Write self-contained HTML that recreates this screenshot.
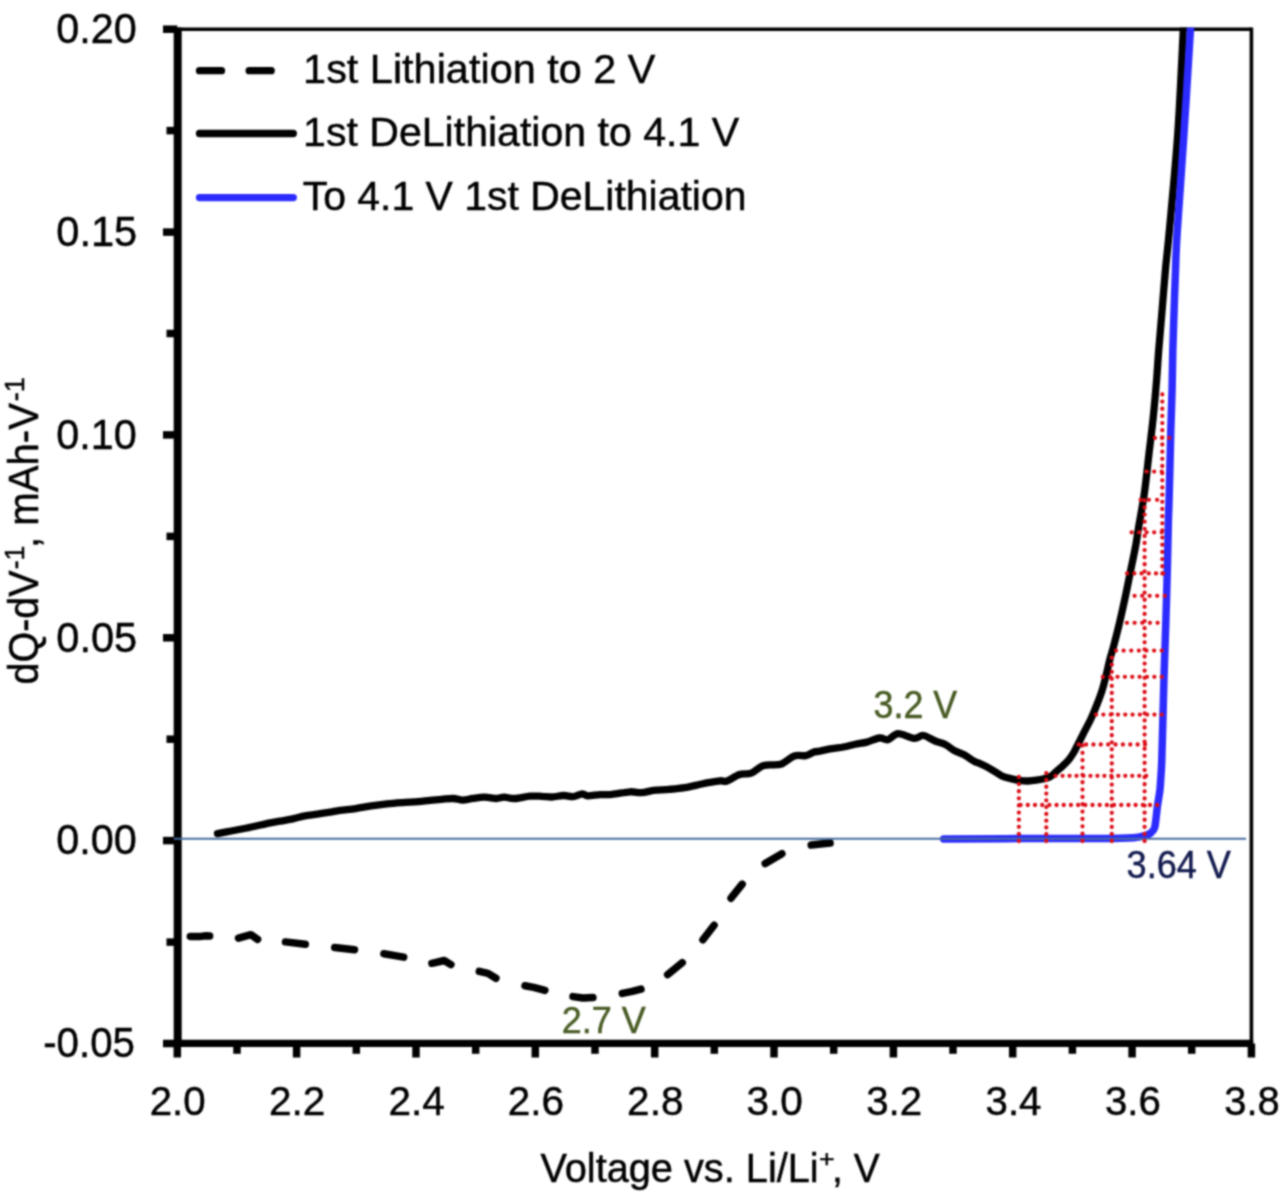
<!DOCTYPE html><html><head><meta charset="utf-8"><style>html,body{margin:0;padding:0;background:#fff;}svg{display:block;}text{font-family:"Liberation Sans",sans-serif;font-size:100px;}</style></head><body>
<svg width="1280" height="1196" viewBox="0 0 1280 1196">
<defs><filter id="bl" x="0" y="0" width="1280" height="1196" filterUnits="userSpaceOnUse" color-interpolation-filters="sRGB"><feConvolveMatrix order="5" kernelMatrix="0.00087 0.00695 0.01388 0.00695 0.00087 0.00695 0.05540 0.11068 0.05540 0.00695 0.01388 0.11068 0.22111 0.11068 0.01388 0.00695 0.05540 0.11068 0.05540 0.00695 0.00087 0.00695 0.01388 0.00695 0.00087" divisor="1" edgeMode="duplicate"/></filter></defs>
<g filter="url(#bl)">
<rect width="1280" height="1196" fill="#fff"/>
<text transform="translate(56.24,43.00) scale(0.4139,0.4200)" fill="#000" stroke="#000" stroke-width="1.08">0.20</text>
<text transform="translate(56.24,245.86) scale(0.4161,0.4200)" fill="#000" stroke="#000" stroke-width="1.08">0.15</text>
<text transform="translate(56.24,448.72) scale(0.4139,0.4200)" fill="#000" stroke="#000" stroke-width="1.08">0.10</text>
<text transform="translate(56.24,651.58) scale(0.4161,0.4200)" fill="#000" stroke="#000" stroke-width="1.08">0.05</text>
<text transform="translate(56.24,854.44) scale(0.4139,0.4200)" fill="#000" stroke="#000" stroke-width="1.08">0.00</text>
<text transform="translate(43.19,1057.30) scale(0.4027,0.4200)" fill="#000" stroke="#000" stroke-width="1.09">-0.05</text>
<text transform="translate(149.74,1115.00) scale(0.4023,0.4057)" fill="#000" stroke="#000" stroke-width="1.11">2.0</text>
<text transform="translate(269.07,1115.00) scale(0.4054,0.4057)" fill="#000" stroke="#000" stroke-width="1.11">2.2</text>
<text transform="translate(388.41,1115.00) scale(0.4054,0.4057)" fill="#000" stroke="#000" stroke-width="1.11">2.4</text>
<text transform="translate(507.76,1115.00) scale(0.4054,0.4057)" fill="#000" stroke="#000" stroke-width="1.11">2.6</text>
<text transform="translate(627.10,1115.00) scale(0.4054,0.4057)" fill="#000" stroke="#000" stroke-width="1.11">2.8</text>
<text transform="translate(746.45,1115.00) scale(0.4054,0.4057)" fill="#000" stroke="#000" stroke-width="1.11">3.0</text>
<text transform="translate(866.21,1115.00) scale(0.4023,0.4057)" fill="#000" stroke="#000" stroke-width="1.11">3.2</text>
<text transform="translate(985.55,1115.00) scale(0.4023,0.4057)" fill="#000" stroke="#000" stroke-width="1.11">3.4</text>
<text transform="translate(1104.90,1115.00) scale(0.4023,0.4057)" fill="#000" stroke="#000" stroke-width="1.11">3.6</text>
<text transform="translate(1224.25,1115.00) scale(0.3992,0.4057)" fill="#000" stroke="#000" stroke-width="1.12">3.8</text>
<text transform="translate(303.09,83.20) scale(0.4144,0.4029)" fill="#000" stroke="#000" stroke-width="1.10">1st Lithiation to 2 V</text>
<text transform="translate(303.11,146.40) scale(0.4107,0.4029)" fill="#000" stroke="#000" stroke-width="1.11">1st DeLithiation to 4.1 V</text>
<text transform="translate(302.68,209.60) scale(0.4094,0.4000)" fill="#000" stroke="#000" stroke-width="1.11">To 4.1 V 1st DeLithiation</text>
<line x1="199.5" y1="70.7" x2="221.5" y2="70.7" stroke="#000" stroke-width="7.3" stroke-linecap="round"/>
<line x1="249.2" y1="70.7" x2="271.2" y2="70.7" stroke="#000" stroke-width="7.3" stroke-linecap="round"/>
<line x1="199.5" y1="133.5" x2="293.3" y2="133.5" stroke="#000" stroke-width="7.3" stroke-linecap="round"/>
<line x1="199.5" y1="197.6" x2="293.3" y2="197.6" stroke="#2b2bff" stroke-width="7.3" stroke-linecap="round"/>
<text transform="translate(540.40,1182.40) scale(0.3974,0.4087)" fill="#000" stroke="#000" stroke-width="1.12">Voltage vs. Li/Li</text>
<text transform="translate(818.96,1167.00) scale(0.2688,0.2408)" fill="#000" stroke="#000" stroke-width="1.77">+</text>
<text transform="translate(832.00,1182.40) scale(0.3894,0.4087)" fill="#000" stroke="#000" stroke-width="1.13">, V</text>
<g transform="translate(38.0,0) rotate(-90)"><text transform="translate(-684.58,0.00) scale(0.3954,0.4174)" fill="#000" stroke="#000" stroke-width="1.11">dQ-dV</text><text transform="translate(-569.27,-13.80) scale(0.2663,0.2725)" fill="#000" stroke="#000" stroke-width="1.67">-1</text><text transform="translate(-548.02,0.00) scale(0.4017,0.4174)" fill="#000" stroke="#000" stroke-width="1.10">, mAh-V</text><text transform="translate(-401.19,-13.80) scale(0.2713,0.2725)" fill="#000" stroke="#000" stroke-width="1.66">-1</text></g>
<text transform="translate(873.57,718.00) scale(0.3581,0.3812)" fill="#475a22" stroke="#475a22" stroke-width="1.22">3.2 V</text>
<text transform="translate(561.70,1032.70) scale(0.3596,0.3725)" fill="#475a22" stroke="#475a22" stroke-width="1.23">2.7 V</text>
<text transform="translate(1126.56,878.10) scale(0.3611,0.3797)" fill="#121a4e" stroke="#121a4e" stroke-width="1.21">3.64 V</text>
<defs><clipPath id="pa"><rect x="175" y="27.4" width="1078" height="1016"/></clipPath></defs>
<line x1="177.3" y1="29.2" x2="1251.4" y2="29.2" stroke="#000" stroke-width="3.4"/>
<path clip-path="url(#pa)" d="M217.50,833.60 C219.58,833.21 225.10,832.18 230.00,831.25 C234.90,830.32 242.73,828.83 246.90,828.00 C251.07,827.17 251.10,827.17 255.00,826.30 C258.90,825.43 266.13,823.65 270.30,822.80 C274.47,821.95 276.10,821.90 280.00,821.20 C283.90,820.50 289.53,819.50 293.70,818.60 C297.87,817.70 301.08,816.53 305.00,815.80 C308.92,815.07 313.03,814.80 317.20,814.20 C321.37,813.60 326.20,812.83 330.00,812.20 C333.80,811.57 335.73,811.00 340.00,810.40 C344.27,809.80 350.38,809.35 355.60,808.60 C360.82,807.85 366.08,806.68 371.30,805.90 C376.52,805.12 381.70,804.45 386.90,803.90 C392.10,803.35 397.30,802.98 402.50,802.60 C407.70,802.22 413.52,801.98 418.10,801.60 C422.68,801.22 426.07,800.68 430.00,800.30 C433.93,799.92 437.80,799.60 441.70,799.30 C445.60,799.00 449.88,798.37 453.40,798.50 C456.92,798.63 459.53,800.12 462.80,800.10 C466.07,800.08 469.35,798.88 473.00,798.40 C476.65,797.92 480.80,797.18 484.70,797.20 C488.60,797.22 493.15,798.50 496.40,798.50 C499.65,798.50 501.20,797.20 504.20,797.20 C507.20,797.20 510.10,798.67 514.40,798.50 C518.70,798.33 525.45,796.57 530.00,796.20 C534.55,795.83 538.05,796.17 541.70,796.30 C545.35,796.43 548.25,797.13 551.90,797.00 C555.55,796.87 560.08,795.57 563.60,795.50 C567.12,795.43 569.88,796.88 573.00,796.60 C576.12,796.32 579.83,793.93 582.30,793.80 C584.77,793.67 584.80,795.67 587.80,795.80 C590.80,795.93 596.27,794.83 600.30,794.60 C604.33,794.37 607.05,794.87 612.00,794.40 C616.95,793.93 625.05,792.08 630.00,791.80 C634.95,791.52 637.80,792.93 641.70,792.70 C645.60,792.47 648.85,790.95 653.40,790.40 C657.95,789.85 663.78,789.85 669.00,789.40 C674.22,788.95 679.48,788.55 684.70,787.70 C689.92,786.85 696.40,785.13 700.30,784.30 C704.20,783.47 704.82,783.28 708.10,782.70 C711.38,782.12 716.85,781.08 720.00,780.80 C723.15,780.52 723.75,782.07 727.00,781.00 C730.25,779.93 735.45,775.70 739.50,774.40 C743.55,773.10 747.25,774.70 751.30,773.20 C755.35,771.70 758.87,766.90 763.80,765.40 C768.73,763.90 775.83,765.77 780.90,764.20 C785.97,762.63 790.03,757.43 794.20,756.00 C798.37,754.57 802.63,756.25 805.90,755.60 C809.17,754.95 811.45,752.85 813.80,752.10 C816.15,751.35 817.02,751.68 820.00,751.10 C822.98,750.52 827.80,749.28 831.70,748.60 C835.60,747.92 839.48,747.72 843.40,747.00 C847.32,746.28 851.28,745.12 855.20,744.30 C859.12,743.48 862.87,743.15 866.90,742.10 C870.93,741.05 875.88,738.40 879.40,738.00 C882.92,737.60 884.88,740.42 888.00,739.70 C891.12,738.98 893.75,733.93 898.10,733.70 C902.45,733.47 909.88,738.00 914.10,738.30 C918.32,738.60 919.88,735.05 923.40,735.50 C926.92,735.95 931.55,739.50 935.20,741.00 C938.85,742.50 942.05,742.87 945.30,744.50 C948.55,746.13 951.57,749.10 954.70,750.80 C957.83,752.50 960.85,752.95 964.10,754.70 C967.35,756.45 971.55,759.82 974.20,761.30 C976.85,762.78 977.88,762.67 980.00,763.60 C982.12,764.53 984.13,765.38 986.90,766.90 C989.67,768.42 993.85,771.07 996.60,772.70 C999.35,774.33 1000.70,775.63 1003.40,776.70 C1006.10,777.77 1009.93,778.45 1012.80,779.10 C1015.67,779.75 1018.00,780.28 1020.60,780.60 C1023.20,780.92 1025.79,781.07 1028.40,781.00 C1031.01,780.93 1033.65,780.58 1036.25,780.20 C1038.85,779.82 1041.66,779.28 1044.00,778.70 C1046.34,778.12 1048.20,777.94 1050.30,776.70 C1052.40,775.46 1054.52,773.07 1056.60,771.25 C1058.68,769.43 1060.73,767.76 1062.80,765.80 C1064.87,763.84 1067.17,761.72 1069.00,759.50 C1070.83,757.28 1072.27,755.00 1073.75,752.50 C1075.23,750.00 1076.18,747.88 1077.90,744.50 C1079.62,741.12 1081.88,736.58 1084.10,732.20 C1086.32,727.82 1089.10,722.70 1091.20,718.20 C1093.30,713.70 1094.87,709.88 1096.70,705.20 C1098.53,700.52 1100.62,695.13 1102.20,690.10 C1103.78,685.07 1104.95,680.02 1106.20,675.00 C1107.45,669.98 1108.43,664.93 1109.70,660.00 C1110.97,655.07 1112.17,651.60 1113.80,645.40 C1115.43,639.20 1117.62,630.73 1119.50,622.80 C1121.38,614.87 1123.32,606.15 1125.10,597.80 C1126.88,589.45 1128.42,581.48 1130.20,572.70 C1131.98,563.92 1134.45,552.38 1135.80,545.10 C1137.15,537.82 1136.87,537.70 1138.30,529.00 C1139.73,520.30 1142.65,505.18 1144.40,492.90 C1146.15,480.62 1147.33,467.85 1148.80,455.30 C1150.27,442.75 1151.90,430.15 1153.20,417.60 C1154.50,405.05 1155.68,391.20 1156.60,380.00 C1157.52,368.80 1157.78,362.02 1158.70,350.40 C1159.62,338.78 1160.98,323.68 1162.10,310.30 C1163.22,296.92 1164.20,283.32 1165.40,270.10 C1166.60,256.88 1167.25,253.60 1169.30,231.00 C1171.35,208.40 1175.38,167.77 1177.70,134.50 C1180.02,101.23 1182.23,50.48 1183.20,31.40 C1184.17,12.32 1183.45,21.90 1183.50,20.00" fill="none" stroke="#000" stroke-width="7.3" stroke-linejoin="round" stroke-linecap="round"/>
<polyline points="190.3,936.4 199.5,936.6 206.0,935.8 209.6,936.0" fill="none" stroke="#000" stroke-width="7.5" stroke-linejoin="round" stroke-linecap="round"/>
<polyline points="238.5,938.2 250.9,934.7 257.6,939.3" fill="none" stroke="#000" stroke-width="7.5" stroke-linejoin="round" stroke-linecap="round"/>
<polyline points="285.5,941.9 305.3,944.3" fill="none" stroke="#000" stroke-width="7.5" stroke-linejoin="round" stroke-linecap="round"/>
<polyline points="334.7,947.5 354.5,949.7" fill="none" stroke="#000" stroke-width="7.5" stroke-linejoin="round" stroke-linecap="round"/>
<polyline points="383.9,953.7 403.7,957.1" fill="none" stroke="#000" stroke-width="7.5" stroke-linejoin="round" stroke-linecap="round"/>
<polyline points="431.9,963.3 444.2,960.5 450.9,964.6" fill="none" stroke="#000" stroke-width="7.5" stroke-linejoin="round" stroke-linecap="round"/>
<polyline points="479.3,971.4 488.0,973.4 495.9,978.3" fill="none" stroke="#000" stroke-width="7.5" stroke-linejoin="round" stroke-linecap="round"/>
<polyline points="525.0,985.8 533.7,987.4 544.9,990.4" fill="none" stroke="#000" stroke-width="7.5" stroke-linejoin="round" stroke-linecap="round"/>
<polyline points="573.0,996.6 583.0,998.0 592.9,997.6" fill="none" stroke="#000" stroke-width="7.5" stroke-linejoin="round" stroke-linecap="round"/>
<polyline points="622.3,993.4 632.2,991.4 641.0,989.1" fill="none" stroke="#000" stroke-width="7.5" stroke-linejoin="round" stroke-linecap="round"/>
<polyline points="667.6,974.6 682.3,962.7" fill="none" stroke="#000" stroke-width="7.5" stroke-linejoin="round" stroke-linecap="round"/>
<polyline points="702.9,939.7 714.1,925.3" fill="none" stroke="#000" stroke-width="7.5" stroke-linejoin="round" stroke-linecap="round"/>
<polyline points="731.0,898.2 742.2,884.1" fill="none" stroke="#000" stroke-width="7.5" stroke-linejoin="round" stroke-linecap="round"/>
<polyline points="765.2,863.6 781.9,853.7" fill="none" stroke="#000" stroke-width="7.5" stroke-linejoin="round" stroke-linecap="round"/>
<polyline points="811.2,845.0 830.1,843.1" fill="none" stroke="#000" stroke-width="7.5" stroke-linejoin="round" stroke-linecap="round"/>
<path clip-path="url(#pa)" d="M943.70,839.00 C956.08,838.93 988.62,838.72 1018.00,838.60 C1047.38,838.48 1098.87,838.80 1120.00,838.30 C1141.13,837.80 1139.53,836.62 1144.80,835.60 C1150.07,834.58 1149.97,833.52 1151.60,832.20 C1153.23,830.88 1153.90,829.70 1154.60,827.70 C1155.30,825.70 1155.30,823.97 1155.80,820.20 C1156.30,816.43 1156.92,810.12 1157.60,805.10 C1158.28,800.08 1159.33,795.12 1159.90,790.10 C1160.47,785.08 1160.68,780.02 1161.00,775.00 C1161.32,769.98 1161.48,769.33 1161.80,760.00 C1162.12,750.67 1162.50,733.92 1162.90,719.00 C1163.30,704.08 1163.70,686.95 1164.20,670.50 C1164.70,654.05 1165.38,637.02 1165.90,620.30 C1166.42,603.58 1166.88,586.92 1167.30,570.20 C1167.72,553.48 1168.13,530.80 1168.40,520.00 C1168.67,509.20 1168.65,514.10 1168.90,505.40 C1169.15,496.70 1169.58,480.33 1169.90,467.80 C1170.22,455.27 1170.43,443.30 1170.80,430.20 C1171.17,417.10 1171.77,402.50 1172.10,389.20 C1172.43,375.90 1172.47,363.55 1172.80,350.40 C1173.13,337.25 1173.65,323.68 1174.10,310.30 C1174.55,296.92 1174.98,283.15 1175.50,270.10 C1176.02,257.05 1175.80,254.60 1177.20,232.00 C1178.60,209.40 1181.72,167.93 1183.90,134.50 C1186.08,101.07 1189.18,50.48 1190.30,31.40 C1191.42,12.32 1190.55,21.90 1190.60,20.00" fill="none" stroke="#2b2bff" stroke-width="7.5" stroke-linejoin="round" stroke-linecap="round"/>
<line x1="1251.4" y1="27.5" x2="1251.4" y2="1043.5" stroke="#000" stroke-width="3.6"/>
<line x1="177.7" y1="27.5" x2="177.7" y2="1047.1" stroke="#000" stroke-width="8"/>
<line x1="174.0" y1="1043.35" x2="1253.2" y2="1043.35" stroke="#000" stroke-width="7.3"/>
<line x1="163" y1="29.2" x2="177.3" y2="29.2" stroke="#000" stroke-width="7.5"/>
<line x1="166.5" y1="130.6" x2="177.3" y2="130.6" stroke="#000" stroke-width="7.5"/>
<line x1="163" y1="232.1" x2="177.3" y2="232.1" stroke="#000" stroke-width="7.5"/>
<line x1="166.5" y1="333.5" x2="177.3" y2="333.5" stroke="#000" stroke-width="7.5"/>
<line x1="163" y1="434.9" x2="177.3" y2="434.9" stroke="#000" stroke-width="7.5"/>
<line x1="166.5" y1="536.4" x2="177.3" y2="536.4" stroke="#000" stroke-width="7.5"/>
<line x1="163" y1="637.8" x2="177.3" y2="637.8" stroke="#000" stroke-width="7.5"/>
<line x1="166.5" y1="739.2" x2="177.3" y2="739.2" stroke="#000" stroke-width="7.5"/>
<line x1="163" y1="840.6" x2="177.3" y2="840.6" stroke="#000" stroke-width="7.5"/>
<line x1="166.5" y1="942.1" x2="177.3" y2="942.1" stroke="#000" stroke-width="7.5"/>
<line x1="163" y1="1043.5" x2="177.3" y2="1043.5" stroke="#000" stroke-width="7.5"/>
<line x1="177.3" y1="1043.5" x2="177.3" y2="1057.5" stroke="#000" stroke-width="7.5"/>
<line x1="237.0" y1="1043.5" x2="237.0" y2="1053.8" stroke="#000" stroke-width="7.5"/>
<line x1="296.6" y1="1043.5" x2="296.6" y2="1057.5" stroke="#000" stroke-width="7.5"/>
<line x1="356.3" y1="1043.5" x2="356.3" y2="1053.8" stroke="#000" stroke-width="7.5"/>
<line x1="416.0" y1="1043.5" x2="416.0" y2="1057.5" stroke="#000" stroke-width="7.5"/>
<line x1="475.7" y1="1043.5" x2="475.7" y2="1053.8" stroke="#000" stroke-width="7.5"/>
<line x1="535.3" y1="1043.5" x2="535.3" y2="1057.5" stroke="#000" stroke-width="7.5"/>
<line x1="595.0" y1="1043.5" x2="595.0" y2="1053.8" stroke="#000" stroke-width="7.5"/>
<line x1="654.7" y1="1043.5" x2="654.7" y2="1057.5" stroke="#000" stroke-width="7.5"/>
<line x1="714.3" y1="1043.5" x2="714.3" y2="1053.8" stroke="#000" stroke-width="7.5"/>
<line x1="774.0" y1="1043.5" x2="774.0" y2="1057.5" stroke="#000" stroke-width="7.5"/>
<line x1="833.7" y1="1043.5" x2="833.7" y2="1053.8" stroke="#000" stroke-width="7.5"/>
<line x1="893.4" y1="1043.5" x2="893.4" y2="1057.5" stroke="#000" stroke-width="7.5"/>
<line x1="953.0" y1="1043.5" x2="953.0" y2="1053.8" stroke="#000" stroke-width="7.5"/>
<line x1="1012.7" y1="1043.5" x2="1012.7" y2="1057.5" stroke="#000" stroke-width="7.5"/>
<line x1="1072.4" y1="1043.5" x2="1072.4" y2="1053.8" stroke="#000" stroke-width="7.5"/>
<line x1="1132.1" y1="1043.5" x2="1132.1" y2="1057.5" stroke="#000" stroke-width="7.5"/>
<line x1="1191.7" y1="1043.5" x2="1191.7" y2="1053.8" stroke="#000" stroke-width="7.5"/>
<line x1="1251.4" y1="1043.5" x2="1251.4" y2="1057.5" stroke="#000" stroke-width="7.5"/>
<line x1="173.8" y1="838.7" x2="1246" y2="838.7" stroke="#476c9f" stroke-width="2"/>
<line x1="1018.90" y1="777.00" x2="1018.90" y2="841.30" stroke="#dc0c16" stroke-width="4.3" stroke-dasharray="0.01 7.101" stroke-linecap="round" fill="none"/>
<line x1="1046.30" y1="773.20" x2="1046.30" y2="841.30" stroke="#dc0c16" stroke-width="4.3" stroke-dasharray="0.01 6.770" stroke-linecap="round" fill="none"/>
<line x1="1082.50" y1="745.50" x2="1082.50" y2="841.30" stroke="#dc0c16" stroke-width="4.3" stroke-dasharray="0.01 7.336" stroke-linecap="round" fill="none"/>
<line x1="1111.80" y1="657.70" x2="1111.80" y2="841.30" stroke="#dc0c16" stroke-width="4.3" stroke-dasharray="0.01 7.040" stroke-linecap="round" fill="none"/>
<line x1="1144.60" y1="500.40" x2="1144.60" y2="841.30" stroke="#dc0c16" stroke-width="4.3" stroke-dasharray="0.01 7.086" stroke-linecap="round" fill="none"/>
<line x1="1162.30" y1="394.40" x2="1162.30" y2="573.70" stroke="#dc0c16" stroke-width="4.3" stroke-dasharray="0.01 7.150" stroke-linecap="round" fill="none"/>
<line x1="1154.90" y1="437.90" x2="1169.50" y2="437.90" stroke="#dc0c16" stroke-width="4.3" stroke-dasharray="0.01 7.140" stroke-linecap="round" fill="none"/>
<line x1="1146.60" y1="471.60" x2="1162.00" y2="471.60" stroke="#dc0c16" stroke-width="4.3" stroke-dasharray="0.01 7.540" stroke-linecap="round" fill="none"/>
<line x1="1140.60" y1="499.80" x2="1157.40" y2="499.80" stroke="#dc0c16" stroke-width="4.3" stroke-dasharray="0.01 8.240" stroke-linecap="round" fill="none"/>
<line x1="1131.60" y1="532.30" x2="1162.00" y2="532.30" stroke="#dc0c16" stroke-width="4.3" stroke-dasharray="0.01 7.515" stroke-linecap="round" fill="none"/>
<line x1="1127.10" y1="573.40" x2="1163.50" y2="573.40" stroke="#dc0c16" stroke-width="4.3" stroke-dasharray="0.01 7.210" stroke-linecap="round" fill="none"/>
<line x1="1134.60" y1="595.80" x2="1165.00" y2="595.80" stroke="#dc0c16" stroke-width="4.3" stroke-dasharray="0.01 7.515" stroke-linecap="round" fill="none"/>
<line x1="1126.90" y1="622.80" x2="1157.90" y2="622.80" stroke="#dc0c16" stroke-width="4.3" stroke-dasharray="0.01 7.665" stroke-linecap="round" fill="none"/>
<line x1="1116.00" y1="650.60" x2="1162.00" y2="650.60" stroke="#dc0c16" stroke-width="4.3" stroke-dasharray="0.01 7.607" stroke-linecap="round" fill="none"/>
<line x1="1102.80" y1="676.80" x2="1162.00" y2="676.80" stroke="#dc0c16" stroke-width="4.3" stroke-dasharray="0.01 7.353" stroke-linecap="round" fill="none"/>
<line x1="1096.10" y1="714.60" x2="1162.00" y2="714.60" stroke="#dc0c16" stroke-width="4.3" stroke-dasharray="0.01 7.279" stroke-linecap="round" fill="none"/>
<line x1="1078.70" y1="744.50" x2="1145.30" y2="744.50" stroke="#dc0c16" stroke-width="4.3" stroke-dasharray="0.01 7.357" stroke-linecap="round" fill="none"/>
<line x1="1055.60" y1="775.80" x2="1146.50" y2="775.80" stroke="#dc0c16" stroke-width="4.3" stroke-dasharray="0.01 6.959" stroke-linecap="round" fill="none"/>
<line x1="1020.60" y1="805.00" x2="1157.50" y2="805.00" stroke="#dc0c16" stroke-width="4.3" stroke-dasharray="0.01 7.179" stroke-linecap="round" fill="none"/>
</g></svg></body></html>
